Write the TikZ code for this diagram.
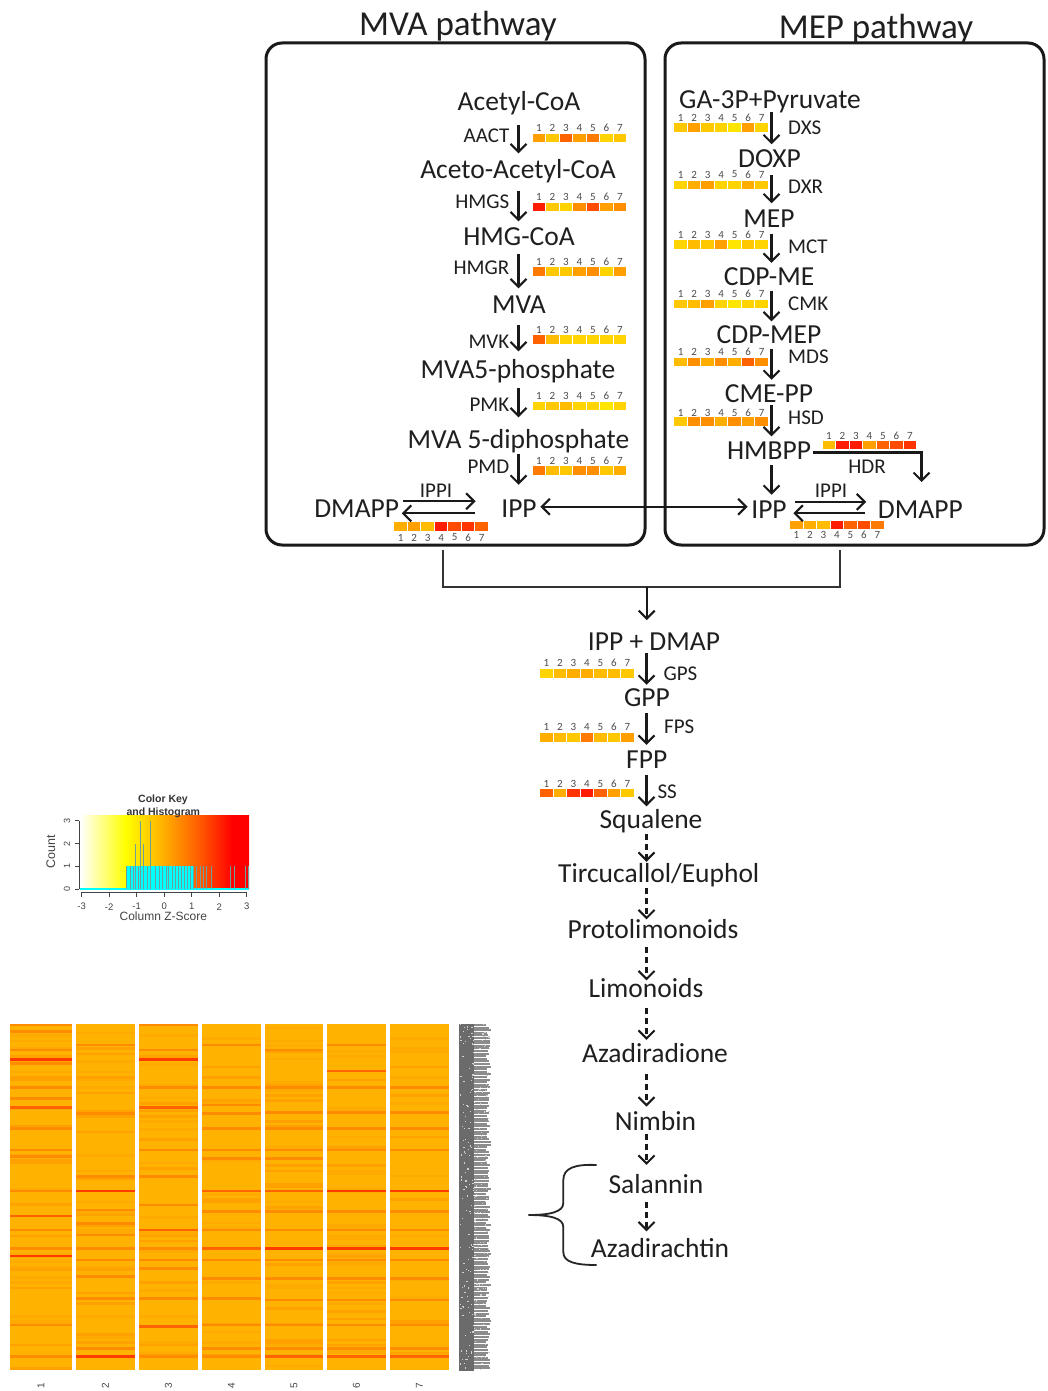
\documentclass[tikz,border=0pt]{standalone}
\usepackage{fontspec}
\setmainfont{Carlito}
\newfontfamily\keyfont{Liberation Sans}
\usetikzlibrary{arrows.meta}

% palette of the small expression strips
\definecolor{kY0}{HTML}{FFE600}
\definecolor{kY1}{HTML}{FFD400}
\definecolor{kY2}{HTML}{FFC800}
\definecolor{kY3}{HTML}{FFBC00}
\definecolor{kO1}{HTML}{FFAE00}
\definecolor{kO2}{HTML}{FFA000}
\definecolor{kO3}{HTML}{FF8E00}
\definecolor{kO4}{HTML}{FF7A00}
\definecolor{kR1}{HTML}{FF6200}
\definecolor{kR2}{HTML}{FF4C00}
\definecolor{kR3}{HTML}{FF3400}
\definecolor{kR4}{HTML}{FF1C00}
% heat map cells
\definecolor{hmbase}{HTML}{FFB300}
\definecolor{hmc8}{HTML}{FFAA00}
\definecolor{hmc9}{HTML}{FFA200}
\definecolor{hmO}{HTML}{FF8C00}
\definecolor{hmRO}{HTML}{FF6400}
\definecolor{hmR}{HTML}{FF3C00}
% colour key
\definecolor{zorange}{HTML}{FFA500}
\definecolor{zredor}{HTML}{FF5500}
\definecolor{hcyan}{RGB}{0,255,255}
\definecolor{histline}{HTML}{6E9E9E}
\definecolor{inkgrey}{HTML}{444444}
\pgfdeclarehorizontalshading{zscore}{100bp}{color(0bp)=(white); color(25bp)=(white);
  color(38.5bp)=(yellow); color(51bp)=(zorange); color(61bp)=(zredor);
  color(70bp)=(red); color(100bp)=(red)}

% seven coloured squares with their sample numbers
\newcommand\heatstrip[5]{%
  \foreach \hc [count=\i] in {#4}{%
    \fill[\hc] ({#2+(\i-1)*13.5},{#3-4.3}) rectangle ++(12.6,8.6);
    \node[num] (#1-\i) at ({#2+(\i-1)*13.5+6.3},{#3+#5}) {\i};
  }}
% highlighted rows of one heat map column
\newcommand\hmlines[4]{%
  \foreach \yy in {#4}{\fill[#3] (#1,\yy-1.3) rectangle (#2,\yy+1.3);}}

\begin{document}
\begin{tikzpicture}[x=1pt,y=-1pt,
  met/.style={font=\fontsize{27.5}{30}\selectfont, text=black!88, inner sep=1.5pt,
              text height=17.7pt, text depth=0pt},
  ttl/.style={font=\fontsize{35}{40}\selectfont, text=black!88, inner sep=0pt},
  enz/.style={font=\fontsize{21}{24}\selectfont, text=black!88, inner sep=1pt},
  num/.style={font=\fontsize{11}{12}\selectfont, text=black!70, inner sep=0pt},
  box/.style={draw=black!90, line width=3pt, rounded corners=16pt, inner sep=0pt},
  arr/.style={draw=black!90, line width=2.1pt, -{Straight Barb[length=8pt,width=16pt]}},
  darr/.style={arr, dash pattern=on 6pt off 4pt},
  twoway/.style={draw=black!90, line width=2.1pt,
     {Straight Barb[length=8pt,width=16pt]}-{Straight Barb[length=8pt,width=16pt]}},
  conn/.style={draw=black!80, line width=1.8pt},
  keytxt/.style={font=\keyfont\fontsize{10.5}{12}\selectfont, text=inkgrey, inner sep=0pt}
]
\useasboundingbox (0,0) rectangle (1048,1391);
\fill[white] (0,0) rectangle (1048,1391);

%% ---------- pathway boxes ----------
\node[box, minimum width=379pt, minimum height=502pt] (mvabox) at (455.5,294) {};
\node[box, minimum width=379pt, minimum height=502pt] (mepbox) at (854.5,294) {};
\node[ttl, anchor=base] (mvatitle) at (458,36) {MVA pathway};
\node[ttl, anchor=base] (meptitle) at (876,39) {MEP pathway};

%% ---------- MVA pathway ----------
\coordinate (mvacol) at (518.5,0);
\node[met] (acetyl) at (519,102) {Acetyl-CoA};
\node[met] (acac)   at (518,170) {Aceto-Acetyl-CoA};
\node[met] (hmgcoa) at (519,237) {HMG-CoA};
\node[met] (mva)    at (519,305) {MVA};
\node[met] (mvafp)  at (518,370) {MVA5-phosphate};
\node[met] (mvapp)  at (518.5,440) {MVA 5-diphosphate};
\node[met] (ippA)   at (519,508.3) {IPP};
\node[met] (dmappA) at (356.7,508.3) {DMAPP};

\node[enz, anchor=east] (aact) at (510.5,135.7) {AACT};
\node[enz, anchor=east] (hmgs) at (510.5,201.7) {HMGS};
\node[enz, anchor=east] (hmgr) at (510.5,268) {HMGR};
\node[enz, anchor=east] (mvk)  at (510.5,341.7) {MVK};
\node[enz, anchor=east] (pmk)  at (510.5,405) {PMK};
\node[enz, anchor=east] (pmd)  at (510.5,466.7) {PMD};
\node[enz] (ippiA) at (436,491) {IPPI};

\heatstrip{aacts}{532.5}{138}{kO2,kY2,kR1,kO2,kO4,kY1,kY2}{-10}
\heatstrip{hmgss}{532.5}{207}{kR4,kY2,kY1,kO3,kR2,kO2,kO3}{-10}
\heatstrip{hmgrs}{532.5}{271.3}{kO4,kY2,kY2,kO2,kO3,kY1,kO2}{-9.6}
\heatstrip{mvks}{532.5}{339.7}{kR1,kY3,kY1,kY1,kY1,kY1,kY1}{-9.6}
\heatstrip{pmks}{532.5}{405.8}{kY1,kY2,kY3,kY1,kY1,kY0,kY1}{-9.6}
\heatstrip{pmds}{532.5}{470.5}{kO4,kY3,kY2,kO3,kO3,kY2,kO1}{-9.6}
\heatstrip{ippias}{394.3}{526.7}{kO1,kO2,kY3,kR4,kR2,kR3,kR1}{10.8}

\foreach \a/\b/\s/\e in {acetyl/acac/12/6, acac/hmgcoa/10/5, hmgcoa/mva/6/6,
                          mva/mvafp/9/8, mvafp/mvapp/7/12, mvapp/ippA/3/13}
  \draw[arr, shorten <=\s pt, shorten >=\e pt] (\a.south -| mvacol) -- (\b.north -| mvacol);
\draw[arr] ([xshift=2.7pt,yshift=7pt]dmappA.east) -- ([xshift=-24pt,yshift=7pt]ippA.west);
\draw[arr] ([xshift=-25pt,yshift=-5pt]ippA.west) -- ([xshift=1pt,yshift=-5pt]dmappA.east);

%% ---------- MEP pathway ----------
\coordinate (mepcol) at (771.5,0);
\node[met] (gapyr)  at (770,100) {GA-3P+Pyruvate};
\node[met] (doxp)   at (769.5,158.3) {DOXP};
\node[met] (mep)    at (769,218.3) {MEP};
\node[met] (cdpme)  at (769,277) {CDP-ME};
\node[met] (cdpmep) at (769,335) {CDP-MEP};
\node[met] (cmepp)  at (769,393.3) {CME-PP};
\node[met] (hmbpp)  at (769,451) {HMBPP};
\node[met] (ippB)   at (769,509.3) {IPP};
\node[met] (dmappB) at (920.3,509.3) {DMAPP};

\node[enz, anchor=west] (dxs) at (787,127.7) {DXS};
\node[enz, anchor=west] (dxr) at (787,186.7) {DXR};
\node[enz, anchor=west] (mct) at (787,246.7) {MCT};
\node[enz, anchor=west] (cmk) at (787,303.3) {CMK};
\node[enz, anchor=west] (mds) at (787,357) {MDS};
\node[enz, anchor=west] (hsd) at (787,417.3) {HSD};
\node[enz] (hdr)   at (867,466.7) {HDR};
\node[enz] (ippiB) at (831,490.7) {IPPI};

\heatstrip{dxss}{674.3}{127.8}{kY2,kO2,kY2,kY1,kY0,kO2,kY1}{-10}
\heatstrip{dxrs}{674.3}{185}{kY1,kO1,kO2,kY1,kY1,kO1,kY2}{-10.5}
\heatstrip{mcts}{674.3}{244.3}{kY1,kY3,kY2,kO2,kY0,kY2,kY1}{-9.5}
\heatstrip{cmks}{674.3}{304}{kY2,kY3,kO2,kY1,kY0,kY1,kY1}{-10}
\heatstrip{mdss}{674.3}{362}{kY3,kO3,kO1,kO3,kO1,kR1,kO3}{-10.3}
\heatstrip{hsds}{674.3}{421.7}{kY2,kO3,kO3,kO1,kO3,kO2,kO3}{-9}
\heatstrip{hdrs}{822.7}{445}{kY3,kR4,kR4,kO2,kR1,kR2,kR3}{-9.3}
\heatstrip{ippibs}{790}{525}{kO2,kO1,kY3,kR4,kR1,kR2,kO4}{10}

\foreach \a/\b/\s/\e in {gapyr/doxp/1.5/3.5, doxp/mep/6/4.5, mep/cdpme/5/3.5,
                          cdpme/cdpmep/3/3, cdpmep/cmepp/3/3, cmepp/hmbpp/1.5/4,
                          hmbpp/ippB/3/4}
  \draw[arr, shorten <=\s pt, shorten >=\e pt] (\a.south -| mepcol) -- (\b.north -| mepcol);
\coordinate (hdrend) at (921.5,482);
\draw[arr] ([yshift=-1.5pt]hmbpp.east) -| (hdrend);
\draw[arr] ([xshift=7pt,yshift=7.5pt]ippB.east) -- ([xshift=-10pt,yshift=7.5pt]dmappB.west);
\draw[arr] ([xshift=-11.5pt,yshift=-4pt]dmappB.west) -- ([xshift=5pt,yshift=-4pt]ippB.east);

% IPP exchanged between the two compartments
\draw[twoway, shorten <=2pt, shorten >=2pt] ([yshift=1.5pt]ippA.east) -- ([yshift=1.5pt]ippA.east -| ippB.west);

%% ---------- joint route to the limonoids ----------
\coordinate (jl) at (443.3,587.3);
\coordinate (jr) at (839.7,587.3);
\coordinate (jm) at (646.7,587.3);
\coordinate (lowcol) at (646.5,0);
\draw[conn, shorten <=3pt, shorten >=3pt] (mvabox.south -| jl) -- (jl) -- (jr) -- (mepbox.south -| jr);

\node[met] (ippdmap) at (654,641.7) {IPP + DMAP};
\node[met] (gpp)     at (647,697.3) {GPP};
\node[met] (fpp)     at (646.7,760) {FPP};
\node[met] (squal)   at (651,820) {Squalene};
\node[met] (tirc)    at (658.8,873.3) {Tircucallol/Euphol};
\node[met] (proto)   at (653,930) {Protolimonoids};
\node[met] (limo)    at (646,989) {Limonoids};
\node[met] (azdn)    at (655,1054) {Azadiradione};
\node[met] (nimbin)  at (655.5,1121.7) {Nimbin};
\node[met] (salan)   at (656,1185) {Salannin};
\node[met] (azdt)    at (660,1248.3) {Azadirachtin};

\draw[arr, shorten >=11pt] (jm) -- (ippdmap.north -| jm);

\node[enz, anchor=west] (gps) at (662.3,674) {GPS};
\node[enz, anchor=west] (fps) at (663,726.7) {FPS};
\node[enz, anchor=west] (ss)  at (656.3,791.7) {SS};

\heatstrip{gpss}{540}{673.7}{kY1,kY3,kO1,kO1,kY3,kY3,kY2}{-11}
\heatstrip{fpss}{540}{737.7}{kO1,kY3,kY2,kO4,kY3,kY2,kO2}{-11}
\heatstrip{sss}{540}{793}{kR1,kO1,kR3,kR4,kR1,kO2,kY2}{-9}

\foreach \a/\b/\s/\e in {ippdmap/gpp/1/2, gpp/fpp/5.5/4.5, fpp/squal/4.5/3}
  \draw[arr, shorten <=\s pt, shorten >=\e pt] (\a.south -| lowcol) -- (\b.north -| lowcol);
\foreach \a/\b/\s/\e in {squal/tirc/3/1, tirc/proto/4.5/0, proto/limo/6.5/-2,
                          limo/azdn/8.5/3.5, azdn/nimbin/9/4.5, nimbin/salan/1.3/9.5,
                          salan/azdt/6.3/6.3}
  \draw[darr, shorten <=\s pt, shorten >=\e pt] (\a.south -| lowcol) -- (\b.north -| lowcol);

% brace grouping the two end products
\draw[black!85, line width=1.8pt] (596.7,1165) .. controls (575,1164) and (563.3,1168) .. (563.3,1180)
  -- (563.3,1203) .. controls (563.3,1212) and (550,1215) .. (528.3,1215)
  .. controls (550,1215) and (563.3,1218) .. (563.3,1227)
  -- (563.3,1252) .. controls (563.3,1262) and (575,1265) .. (596.7,1265);

%% ---------- colour key and histogram ----------
\shade[shading=zscore] (80,815) rectangle (249,889);
\fill[hcyan] (126,866.3) rectangle (193.3,889);
\draw[hcyan, line width=1.4pt] (80,889) -- (249,889);
\foreach \hx in {126.5,130,133,138,147.5,155,159,162,166,168.5,172,175,178,181,184,187.5,190,193,
                 196.7,200.7,203.3,206.7,211.7,230,234,245,248}
  \draw[histline, line width=0.9pt] (\hx,889) -- (\hx,866.3);
\foreach \hx in {135.5,143.5}
  \draw[histline, line width=0.9pt] (\hx,889) -- (\hx,843.7);
\foreach \hx in {140,150.7}
  \draw[histline, line width=0.9pt] (\hx,889) -- (\hx,820.7);
\node[keytxt, font=\keyfont\bfseries\fontsize{10.5}{12}\selectfont, text=black!80] (keyt1) at (163,799.3) {Color Key};
\node[keytxt, font=\keyfont\bfseries\fontsize{10.5}{12}\selectfont, text=black!80] (keyt2) at (163.3,812.3) {and Histogram};
\draw[inkgrey, line width=0.8pt] (79,820.7) -- (79,889);
\foreach \c/\cy in {0/889,1/866.3,2/843.7,3/820.7}{
  \draw[inkgrey, line width=0.8pt] (79,\cy) -- (75,\cy);
  \node[keytxt, font=\keyfont\fontsize{9}{10}\selectfont, rotate=90] (cnt\c) at (67,\cy) {\c};
}
\node[keytxt, font=\keyfont\fontsize{12.5}{14}\selectfont, rotate=90] (countlab) at (50.7,851.7) {Count};
\draw[inkgrey, line width=0.8pt] (81.7,892) -- (246.7,892);
\foreach \z in {-3,...,3}{
  \draw[inkgrey, line width=0.8pt] ({164.2+27.5*(\z)},892) -- ++(0,5);
  \node[keytxt, font=\keyfont\fontsize{9.5}{10}\selectfont] (zt\z) at ({164.2+27.5*(\z)},906.7) {\z};
}
\node[keytxt, font=\keyfont\fontsize{12}{14}\selectfont] (zlab) at (163.3,916.7) {Column Z-Score};

%% ---------- heat map of the pathway genes ----------
\pgfmathsetseed{2718}
\foreach \xa/\xb in {10/72,76/135,139/198,202/261,265/323,327/386,390/449}{
  \fill[hmbase] (\xa,1024) rectangle (\xb,1370);
  \foreach \r in {0,...,132}{
    \pgfmathtruncatemacro\k{int(rnd*10)}
    \ifnum\k>7
      \fill[hmc\k] (\xa,{1024+\r*2.6}) rectangle (\xb,{1026.6+\r*2.6});
    \fi
  }
}
% column 1
\hmlines{10}{72}{hmO}{1025,1031.3,1050,1063.3,1087.3,1098.3,1128.3,1150,1156.7,1191,1230,1248.3,1325,1356.7}
\hmlines{10}{72}{hmRO}{1107.7,1216}
\hmlines{10}{72}{hmR}{1059.3,1256}
% column 2
\hmlines{76}{135}{hmO}{1045,1113.3,1176.7,1210,1223.3,1235,1248.3,1260,1276.7,1298.3,1348.3}
\hmlines{76}{135}{hmR}{1191,1356.7}
% column 3
\hmlines{139}{198}{hmO}{1025,1050,1087.3,1150,1176.7,1205,1248.3,1260,1268.3,1298.3,1356.7}
\hmlines{139}{198}{hmRO}{1107.7,1230,1326.7}
\hmlines{139}{198}{hmR}{1059.3}
% column 4
\hmlines{202}{261}{hmO}{1045,1087.3,1105,1113.3,1128.3,1150,1158.3,1211.7,1230,1260,1278.3,1298.3,1325,1348.3,1356.7}
\hmlines{202}{261}{hmRO}{1191,1248.3}
% column 5
\hmlines{265}{323}{hmO}{1050,1087.3,1112.3,1128.3,1150,1158.3,1211.7,1230,1260,1278.3,1300,1325,1348.3}
\hmlines{265}{323}{hmRO}{1191,1356.7}
\hmlines{265}{323}{hmR}{1248.3}
% column 6
\hmlines{327}{386}{hmO}{1045,1087.3,1112.3,1128.3,1150,1211.7,1230,1260,1278.3,1300,1325,1348.3}
\hmlines{327}{386}{hmRO}{1071,1356.7}
\hmlines{327}{386}{hmR}{1191,1248.3}
% column 7
\hmlines{390}{449}{hmO}{1087.3,1112.3,1128.3,1150,1211.7,1230,1260,1278.3,1300,1325,1348.3}
\hmlines{390}{449}{hmRO}{1356.7}
\hmlines{390}{449}{hmR}{1191,1248.3}

% row labels, too small to read
\fill[black!58] (459,1024) rectangle (474,1371);
\foreach \r in {0,...,132}{
  \pgfmathsetmacro\w{12+rnd*5}
  \fill[black!45] (474,{1024+\r*2.6}) rectangle ({474+\w},{1025.9+\r*2.6});
}
\foreach \i in {1,...,260}
  \fill[black!18] ({459+rnd*30},{1024+rnd*346}) rectangle ++(1.2,1.2);

% sample numbers under the columns
\foreach \cx [count=\i] in {41,105.5,168.5,231.5,294,356.5,419.5}
  \node[num, rotate=90, font=\keyfont\fontsize{10}{11}\selectfont, text=inkgrey] (hmlab\i) at (\cx,1386) {\i};
\end{tikzpicture}
\end{document}
